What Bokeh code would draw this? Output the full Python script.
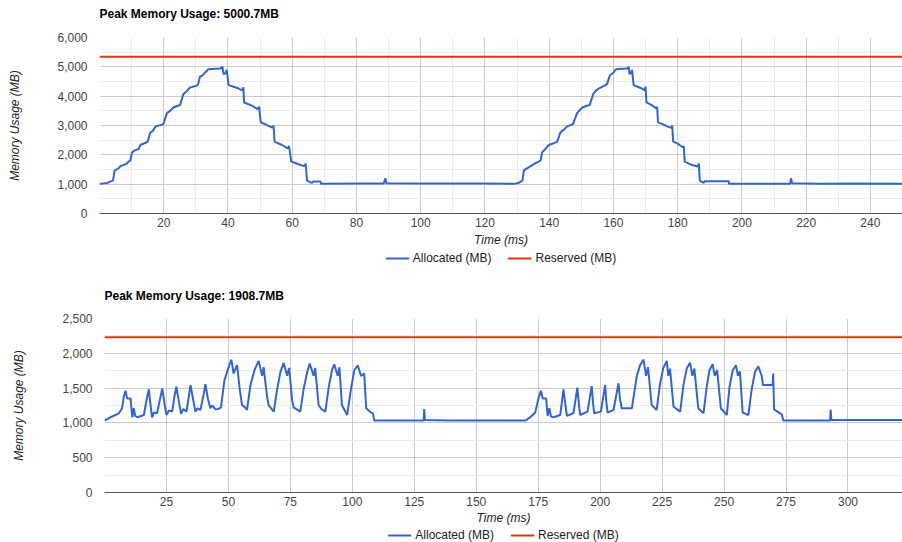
from bokeh.plotting import figure
from bokeh.layouts import column
from bokeh.models import FixedTicker, NumeralTickFormatter, Legend, LegendItem, ColumnDataSource, Label
from bokeh.embed import file_html
from bokeh.resources import INLINE

# ---------------- data: top chart ----------------
top_title = "Peak Memory Usage: 5000.7MB"
top_alloc_x = [0, 2.5, 3.3, 4.2, 4.7, 5.3, 6.1, 6.5, 8.5, 9.0, 9.6, 10.1, 11, 12.2, 12.7, 14.5, 15.0, 15.8, 16.5,
               17.5, 19.5, 19.9, 21.0, 22, 23.0, 24.6, 25.1, 26.1, 27, 28.2, 30.0, 30.6, 31.3, 32.0, 32.7, 33.3,
               33.9, 37.6, 38.3, 38.6, 39.2, 39.6, 40.2, 41.5, 43.3, 44.4, 44.8, 45.0, 46.5, 47.9, 49.2, 49.7,
               50.2, 51.5, 52.6, 53.8, 54.2, 54.5, 55.5, 56.8, 58.6, 59.0, 59.7, 61, 62.5, 63.8, 64.2, 64.6,
               66.1, 66.6, 68.8, 69.0, 80, 88.5, 89, 89.3, 100, 110, 120, 129,
               130.5, 131.1, 131.7, 132.1, 132.8, 133.6, 135.5, 136.7, 137.3, 137.8, 138.8, 139.9, 141.5, 142.5,
               143.5, 144.5, 145.6, 147.0, 147.4, 148.7, 149.5, 150.3, 152.0, 152.6, 153.7, 154.5, 155.4, 157.5,
               158.0, 158.9, 160.0, 160.6, 161.3, 164.3, 164.8, 165.0, 165.5, 165.8, 166.3, 167.5, 168.9, 169.7,
               170.0, 170.3, 171.5, 172.5, 173.3, 173.6, 173.9, 175.5, 176.7, 178.0, 178.3, 178.6, 180, 180.9,
               181.6, 181.9, 182.2, 183.5, 184.5, 186.2, 186.6, 186.9, 188.1, 188.5, 195.9, 196.0, 205, 215,
               215.3, 215.6, 225, 235, 250]
top_alloc_y = [1010, 1040, 1088, 1120, 1462, 1500, 1560, 1610, 1700, 1768, 1800, 2085, 2150, 2200, 2335, 2420, 2448,
               2765, 2800, 2970, 3030, 3050, 3423, 3500, 3615, 3680, 3695, 4070, 4150, 4295, 4350, 4375, 4670,
               4700, 4785, 4850, 4920, 4940, 5000.7, 4750, 4780, 4896, 4375, 4330, 4260, 4200, 4300, 3785, 3720,
               3650, 3560, 3640, 3105, 3050, 2990, 2930, 3000, 2450, 2400, 2335, 2220, 2300, 1768, 1720, 1655,
               1620, 1700, 1122, 1043, 1088, 1088, 1010, 1020, 1020, 1200, 1030, 1020, 1025, 1020, 1010,
               1040, 1088, 1120, 1462, 1520, 1575, 1700, 1768, 1800, 2085, 2200, 2335, 2400, 2448,
               2765, 2850, 2970, 3030, 3050, 3423, 3520, 3615, 3680, 3695, 4070, 4180, 4260, 4380,
               4410, 4715, 4800, 4896, 4930, 4940, 5000.7, 4750, 4800, 4896, 4375, 4320, 4260, 4200,
               4330, 3785, 3720, 3650, 3580, 3640, 3105, 3040, 2970, 2920, 3000, 2450, 2380, 2310,
               2260, 2300, 1768, 1700, 1655, 1600, 1700, 1122, 1043, 1100, 1100, 1010, 1015, 1015,
               1200, 1030, 1015, 1020, 1015]
top_res_x = [0, 250]
top_res_y = [5340, 5340]
top_x_ticks = [20, 40, 60, 80, 100, 120, 140, 160, 180, 200, 220, 240]
top_x_minor = [10, 30, 50, 70, 90, 110, 130, 150, 170, 190, 210, 230, 250]
top_y_ticks = [0, 1000, 2000, 3000, 4000, 5000, 6000]
top_y_minor = [500, 1500, 2500, 3500, 4500, 5500]

# ---------------- data: bottom chart ----------------
bot_title = "Peak Memory Usage: 1908.7MB"
bot_alloc_x = [0, 2.4, 5.8, 7.1, 7.8, 8.5, 9.1, 10.5, 11.2, 11.8, 12.4, 13.2, 15.9, 17.2, 17.9, 18.5, 19.2, 20.0,
               21.2, 22.6, 23.3, 24.2, 25.0, 26.0, 27.3, 28.2, 29.0, 30.0, 30.9, 31.8, 33.1, 34.0, 34.7, 35.8,
               36.7, 37.5, 38.7, 40.1, 40.7, 41.7, 42.7, 43.5, 44.8, 46.0, 47, 48.4, 49.2, 50.1, 51.2, 52.1,
               53.5, 54.6, 55.5, 56.5, 57.5, 58.9, 60.5, 62.2, 63.6, 64.2, 65.6, 66.2, 68.3, 69.6, 71.0, 72.3,
               73.7, 74.5, 75.7, 76.3, 79.0, 80.4, 81.8, 82.8, 84.4, 85.0, 86.4, 87.5, 89.1, 90.5, 91.8, 92.7,
               94.1, 94.8, 95.8, 97.9, 99.5, 100.8, 102.2, 103.5, 104.8, 105.6, 107.5, 108.3, 108.9,
               120, 128.8, 129, 129.3, 140, 155, 169.8,
               171.8, 173.8, 175.1, 176.1, 176.8, 178.2, 178.8, 179.5, 180.2, 181.2, 183.9, 185.2, 186.0, 186.6,
               189.2, 190.8, 191.4, 191.9, 194.9, 196.6, 197.1, 197.6, 200.3, 202.0, 202.5, 203.0, 205.4, 207.4,
               208.0, 208.7, 212.8, 214.8, 216.1, 217.5, 218.5, 219.3, 220.8, 222.8, 224.2, 225.5, 226.9, 227.5,
               228.2, 229.6, 232.3, 233.6, 235.0, 236.3, 237.2, 238.0, 239.6, 241.7, 243.0, 244.1, 245.4, 246.2,
               247.2, 248.7, 251.1, 252.2, 253.5, 254.8, 255.6, 256.4, 257.5, 259.8, 261.2, 262.5, 263.8, 265.2,
               265.7, 269.6, 269.8, 270.2, 272.6, 273.3, 273.9, 285, 292.8, 293, 293.3, 305, 322]
bot_alloc_y = [1033, 1081, 1138, 1210, 1380, 1462, 1352, 1352, 1081, 1210, 1100, 1081, 1114, 1376, 1481, 1281, 1081,
               1150, 1138, 1376, 1495, 1281, 1114, 1180, 1162, 1376, 1519, 1305, 1129, 1200, 1162, 1376, 1543,
               1329, 1162, 1210, 1186, 1424, 1557, 1352, 1210, 1250, 1195, 1200, 1224, 1614, 1700, 1805, 1908.7,
               1710, 1829, 1471, 1257, 1230, 1186, 1543, 1757, 1890, 1676, 1800, 1376, 1257, 1162, 1471, 1733,
               1862, 1676, 1790, 1329, 1224, 1162, 1495, 1733, 1852, 1676, 1790, 1257, 1200, 1162, 1519, 1757,
               1843, 1676, 1800, 1257, 1114, 1495, 1757, 1829, 1676, 1710, 1210, 1148, 1140, 1033,
               1033, 1033, 1200, 1040, 1033, 1033, 1033,
               1081, 1148, 1352, 1462, 1352, 1352, 1100, 1210, 1090, 1081, 1114, 1481, 1250, 1100,
               1138, 1505, 1280, 1114, 1162, 1529, 1300, 1138, 1162, 1543, 1300, 1148, 1186, 1567,
               1350, 1210, 1210, 1676, 1829, 1908.7, 1676, 1800, 1257, 1186, 1567, 1790, 1890, 1676,
               1780, 1233, 1162, 1543, 1790, 1862, 1676, 1780, 1210, 1138, 1519, 1757, 1843, 1676,
               1760, 1210, 1114, 1519, 1757, 1829, 1676, 1740, 1148, 1114, 1495, 1733, 1814, 1676,
               1543, 1543, 1710, 1195, 1138, 1120, 1033, 1033, 1033, 1190, 1040, 1040, 1040]
bot_res_x = [0, 322]
bot_res_y = [2230, 2230]
bot_x_ticks = [25, 50, 75, 100, 125, 150, 175, 200, 225, 250, 275, 300]
bot_x_minor = []
bot_y_ticks = [0, 500, 1000, 1500, 2000, 2500]
bot_y_minor = [250, 750, 1250, 1750, 2250]

legend_labels = ["Allocated (MB)", "Reserved (MB)"]

FONT = "Liberation Sans"
ALLOC_COLOR = "#3366cc"
RES_COLOR = "#dc3912"
W = 902


def strip(height, left):
    q = figure(width=W, height=height, x_range=(0, 1), y_range=(0, height),
               x_axis_type=None, y_axis_type=None, output_backend="svg", toolbar_location=None,
               min_border_left=left, min_border_right=0, min_border_top=0, min_border_bottom=0)
    q.frame_align = False
    q.outline_line_color = None
    q.grid.visible = False
    q.border_fill_color = "white"
    q.background_fill_color = "white"
    return q


def make_title(text, height, left, center_from_bottom):
    q = strip(height, left)
    q.add_layout(Label(x=0, y=center_from_bottom, text=text, text_font=FONT, text_font_size="12px",
                       text_font_style="bold", text_color="#000000",
                       text_align="left", text_baseline="middle"))
    return q


def make_chart(src_a, src_r, xt, xm, yt, ym, xmax, ymax, height, left, top, bottom,
               ylab_standoff, xlab_standoff):
    p = figure(width=W, height=height, x_range=(0, xmax), y_range=(0, ymax),
               output_backend="svg", toolbar_location=None,
               min_border_left=left, min_border_right=0, min_border_top=top, min_border_bottom=bottom)
    p.frame_align = False
    p.outline_line_color = None
    p.background_fill_color = "white"
    p.border_fill_color = "white"

    p.xaxis.ticker = FixedTicker(ticks=xt, minor_ticks=xm)
    p.yaxis.ticker = FixedTicker(ticks=yt, minor_ticks=ym)
    p.yaxis.formatter = NumeralTickFormatter(format="0,0")

    for ax_ in (p.xaxis[0], p.yaxis[0]):
        ax_.major_tick_line_color = None
        ax_.minor_tick_line_color = None
        ax_.major_tick_out = 0
        ax_.major_tick_in = 0
        ax_.minor_tick_out = 0
        ax_.minor_tick_in = 0
        ax_.major_label_text_font = FONT
        ax_.major_label_text_font_size = "12px"
        ax_.major_label_text_color = "#444444"
        ax_.axis_label_text_font = FONT
        ax_.axis_label_text_font_size = "12px"
        ax_.axis_label_text_font_style = "italic"
        ax_.axis_label_text_color = "#222222"
    p.xaxis.axis_label = "Time (ms)"
    p.yaxis.axis_label = "Memory Usage (MB)"
    p.xaxis.axis_line_color = "#555555"
    p.yaxis.axis_line_color = None
    p.xaxis.major_label_standoff = 4
    p.xaxis.axis_label_standoff = xlab_standoff
    p.yaxis.major_label_standoff = 12
    p.yaxis.axis_label_standoff = ylab_standoff

    p.xgrid.grid_line_color = "#cccccc"
    p.ygrid.grid_line_color = "#cccccc"
    p.xgrid.minor_grid_line_color = "#ebebeb"
    p.ygrid.minor_grid_line_color = "#ebebeb"

    p.line("x", "y", source=src_r, line_color=RES_COLOR, line_width=2)
    p.line("x", "y", source=src_a, line_color=ALLOC_COLOR, line_width=2)
    return p


def make_legend(height, left, src_a, src_r):
    # legend strip: the same series drawn into a view range that shows none of them,
    # so only the legend entries are visible
    q = strip(height, left)
    q.y_range.start = -2 * height
    q.y_range.end = -height
    ra = q.line("x", "y", source=src_a, line_color=ALLOC_COLOR, line_width=2)
    rr = q.line("x", "y", source=src_r, line_color=RES_COLOR, line_width=2)
    legend = Legend(items=[LegendItem(label=legend_labels[0], renderers=[ra]),
                           LegendItem(label=legend_labels[1], renderers=[rr])],
                    orientation="horizontal", location="center",
                    border_line_color=None, background_fill_alpha=0,
                    label_text_font=FONT, label_text_font_size="12px", label_text_color="#222222",
                    glyph_width=24, glyph_height=14, label_height=14, label_standoff=4,
                    padding=0, margin=0, spacing=16)
    q.add_layout(legend)
    return q


top_src_a = ColumnDataSource(dict(x=top_alloc_x, y=top_alloc_y))
top_src_r = ColumnDataSource(dict(x=top_res_x, y=top_res_y))
bot_src_a = ColumnDataSource(dict(x=bot_alloc_x, y=bot_alloc_y))
bot_src_r = ColumnDataSource(dict(x=bot_res_x, y=bot_res_y))

t1 = make_title(top_title, 26, 99, 13)
p1 = make_chart(top_src_a, top_src_r,
                top_x_ticks, top_x_minor, top_y_ticks, top_y_minor, 250, 6000,
                height=224, left=99, top=11, bottom=37, ylab_standoff=32, xlab_standoff=3)
l1 = make_legend(16, 99, top_src_a, top_src_r)
t2 = make_title(bot_title, 40, 104, 11)
p2 = make_chart(bot_src_a, bot_src_r,
                bot_x_ticks, bot_x_minor, bot_y_ticks, bot_y_minor, 322, 2500,
                height=221, left=104, top=12, bottom=34, ylab_standoff=33, xlab_standoff=2)
l2 = make_legend(15, 104, bot_src_a, bot_src_r)

layout = column(t1, p1, l1, t2, p2, l2, spacing=0)
open("out.html", "w").write(file_html(layout, INLINE))
